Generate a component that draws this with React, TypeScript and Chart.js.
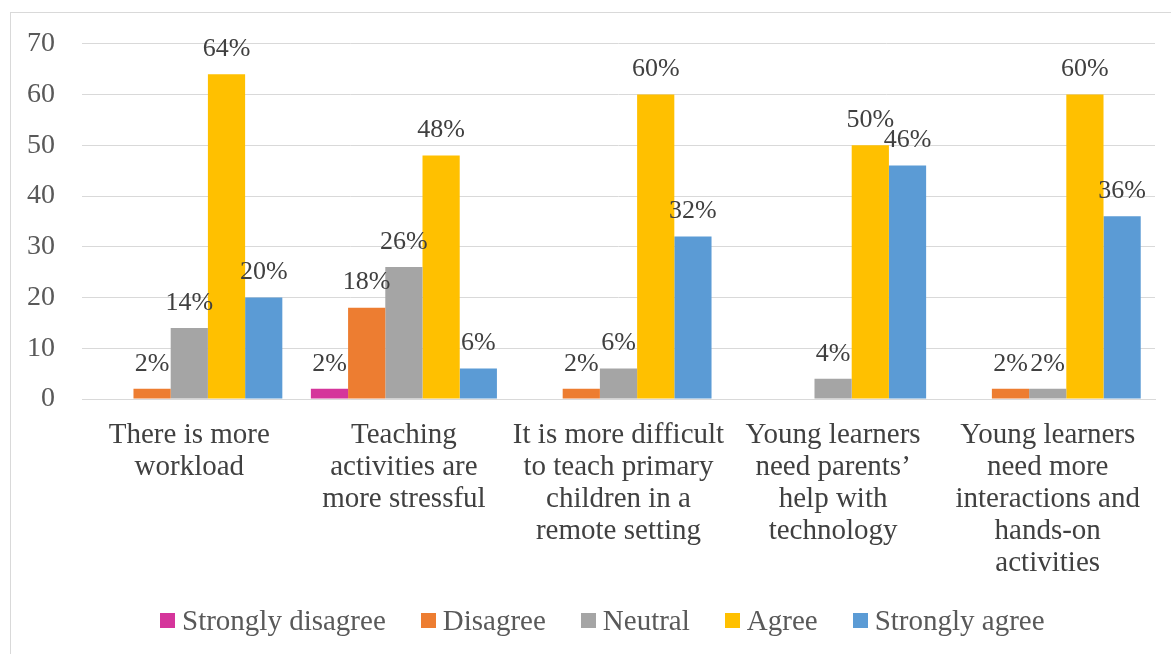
import React, { useEffect, useRef } from "react";
import { Chart, registerables } from "chart.js";

Chart.register(...registerables);

const categories: string[][] = [
  ["There is more", "workload"],
  ["Teaching", "activities are", "more stressful"],
  ["It is more difficult", "to teach primary", "children in a", "remote setting"],
  ["Young learners", "need parents’", "help with", "technology"],
  ["Young learners", "need more", "interactions and", "hands-on", "activities"],
];

const seriesNames = ["Strongly disagree", "Disagree", "Neutral", "Agree", "Strongly agree"];
const seriesColors = ["#D5359B", "#ED7D31", "#A5A5A5", "#FFC000", "#5B9BD5"];

const stronglyDisagree = [0, 2, 0, 0, 0];
const disagree = [2, 18, 2, 0, 2];
const neutral = [14, 26, 6, 4, 2];
const agree = [64, 48, 60, 50, 60];
const stronglyAgree = [20, 6, 32, 46, 36];

const seriesValues = [stronglyDisagree, disagree, neutral, agree, stronglyAgree];

const FONT = '"Liberation Serif", "Times New Roman", serif';

const labelPlugin = {
  id: "barLabels",
  afterDatasetsDraw(chart: any) {
    const ctx = chart.ctx;
    ctx.save();
    ctx.font = `26px ${FONT}`;
    ctx.fillStyle = "#404040";
    ctx.textAlign = "center";
    ctx.textBaseline = "middle";
    chart.data.datasets.forEach((ds: any, i: number) => {
      const meta = chart.getDatasetMeta(i);
      meta.data.forEach((el: any, j: number) => {
        const v = ds.data[j];
        if (!v) return;
        ctx.fillText(v + "%", el.x, el.y - 25);
      });
    });
    ctx.restore();
  },
};

export default function App() {
  const ref = useRef<HTMLCanvasElement | null>(null);

  useEffect(() => {
    if (!ref.current) return;
    const chart = new Chart(ref.current, {
      type: "bar",
      data: {
        labels: categories,
        datasets: seriesNames.map((name, i) => ({
          label: name,
          data: seriesValues[i],
          backgroundColor: seriesColors[i],
          borderWidth: 0,
          categoryPercentage: 0.867,
          barPercentage: 1,
        })),
      },
      options: {
        animation: false,
        responsive: false,
        maintainAspectRatio: false,
        layout: { padding: { left: 0, right: 16, top: 42, bottom: 55 } },
        plugins: {
          legend: { display: false },
          tooltip: { enabled: false },
        },
        scales: {
          x: {
            grid: { display: false, drawTicks: false },
            border: { display: true, color: "#D9D9D9", width: 1 },
            ticks: {
              color: "#404040",
              font: { family: FONT, size: 29, lineHeight: "32px" },
              padding: 20,
              maxRotation: 0,
              minRotation: 0,
              autoSkip: false,
            },
            afterFit: (axis: any) => {
              axis.height = 200;
            },
          },
          y: {
            min: 0,
            max: 70,
            ticks: {
              stepSize: 10,
              color: "#595959",
              font: { family: FONT, size: 28 },
              padding: 27,
            },
            grid: { color: "#D9D9D9", lineWidth: 1, drawTicks: false },
            border: { display: false },
            afterFit: (axis: any) => {
              axis.width = 82;
            },
          },
        },
      },
      plugins: [labelPlugin],
    });
    return () => chart.destroy();
  }, []);

  return (
    <div
      style={{
        position: "fixed",
        left: 0,
        top: 0,
        width: 1171,
        height: 654,
        background: "#fff",
        overflow: "hidden",
        fontFamily: FONT,
      }}
    >
      <div
        style={{
          position: "absolute",
          left: 10,
          top: 12,
          width: 1200,
          height: 700,
          border: "1px solid #D9D9D9",
          boxSizing: "border-box",
        }}
      />
      <canvas
        ref={ref}
        width={1171}
        height={654}
        style={{ position: "absolute", left: 0, top: 0, width: 1171, height: 654 }}
      />
      <div
        style={{
          position: "absolute",
          left: 160,
          top: 620,
          transform: "translateY(-50%)",
          display: "flex",
          alignItems: "center",
          gap: 35,
          whiteSpace: "nowrap",
        }}
      >
        {seriesNames.map((name, i) => (
          <div key={name} style={{ display: "flex", alignItems: "center" }}>
            <span
              style={{
                display: "inline-block",
                width: 15,
                height: 15,
                background: seriesColors[i],
                marginRight: 7,
              }}
            />
            <span style={{ fontSize: 29, color: "#595959", lineHeight: "32px" }}>{name}</span>
          </div>
        ))}
      </div>
    </div>
  );
}
